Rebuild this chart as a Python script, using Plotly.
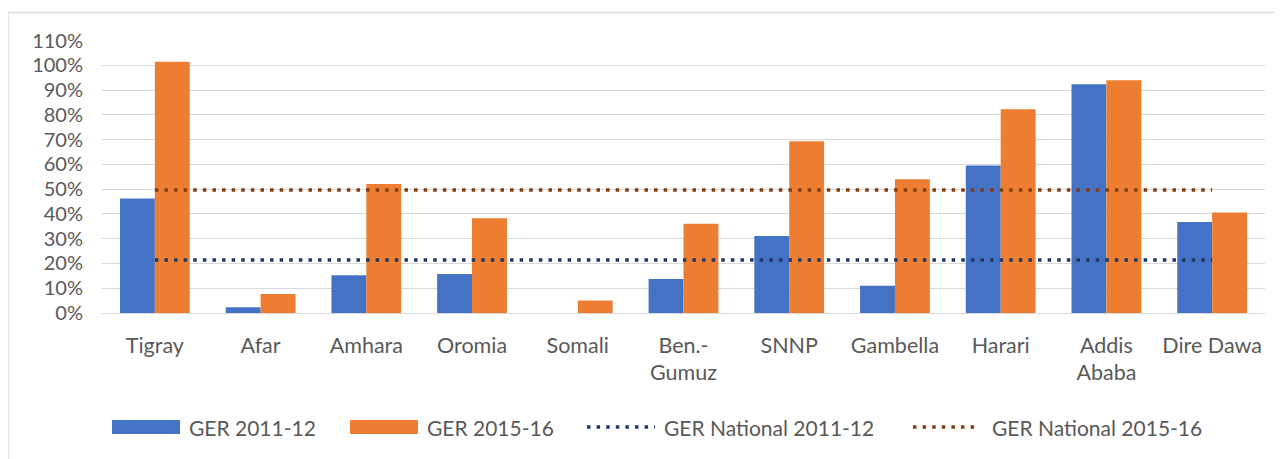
import plotly.graph_objects as go

# ---- data ----
regions = ["Tigray", "Afar", "Amhara", "Oromia", "Somali", "Ben.-<br>Gumuz",
           "SNNP", "Gambella", "Harari", "Addis<br>Ababa", "Dire Dawa"]
ger_2011_12 = [0.463, 0.023, 0.153, 0.158, 0.0, 0.137, 0.311, 0.110, 0.596, 0.924, 0.368]
ger_2015_16 = [1.015, 0.077, 0.521, 0.383, 0.050, 0.361, 0.694, 0.540, 0.823, 0.940, 0.406]
national_2011_12 = 0.214
national_2015_16 = 0.497

series_names = ["GER 2011-12", "GER 2015-16", "GER National 2011-12", "GER National 2015-16"]
y_tick_vals = [i / 10 for i in range(12)]

# ---- style ----
W, H = 1282, 459
OFF = 8  # page body margin offset
BLUE, ORANGE = "#4472C4", "#ED7D31"
NAVY, BROWN = "#203864", "#843C0C"
TXT = "#595959"
GRID = "#d9d9d9"
FONT = "Lato"
FS_Y = 20
FS_X = 21.5
FS_L = 21
DOT = "3.5px,6.1px"

def px_x(x):
    return (x - OFF) / W

def px_y(y):
    return 1 - (y - OFF) / H

fig = go.Figure()
fig.add_trace(go.Bar(x=regions, y=ger_2011_12, name=series_names[0], marker_color=BLUE,
                     marker_line_width=0))
fig.add_trace(go.Bar(x=regions, y=ger_2015_16, name=series_names[1], marker_color=ORANGE,
                     marker_line_width=0))
fig.add_trace(go.Scatter(x=regions, y=[national_2011_12] * len(regions), name=series_names[2],
                         mode="lines", line=dict(color=NAVY, width=3.5, dash=DOT)))
fig.add_trace(go.Scatter(x=regions, y=[national_2015_16] * len(regions), name=series_names[3],
                         mode="lines", line=dict(color=BROWN, width=3.5, dash=DOT)))

fig.update_layout(
    template="none",
    width=W, height=H, autosize=False,
    margin=dict(l=0, r=0, t=0, b=0, pad=0, autoexpand=False),
    paper_bgcolor="white", plot_bgcolor="white",
    barmode="group", bargap=0.34, bargroupgap=0,
    showlegend=False,
    font=dict(family=FONT, size=FS_X, color=TXT),
)
fig.update_xaxes(
    domain=[px_x(102), px_x(1265)], automargin=False,
    showgrid=False, showline=False, zeroline=False, ticks="",
    tickfont=dict(family=FONT, size=FS_X, color=TXT),
    ticklabelstandoff=17,
)
fig.update_yaxes(
    domain=[px_y(313), px_y(40.7)], automargin=False,
    range=[0, 1.1], tickvals=y_tick_vals, tickformat=".0%",
    showgrid=True, gridcolor=GRID, gridwidth=1.3,
    zeroline=True, zerolinecolor=GRID, zerolinewidth=1.3,
    showline=False, ticks="",
    tickfont=dict(family=FONT, size=FS_Y, color=TXT),
    ticklabelstandoff=18,
)

# chart frame
fig.add_shape(type="rect", xref="paper", yref="paper",
              x0=px_x(8), x1=1.05, y0=-0.1, y1=px_y(12.5),
              line=dict(color=GRID, width=1.3), fillcolor="rgba(0,0,0,0)", layer="below")

# legend (drawn manually to get Excel-like wide swatches)
leg_y = 427
items = [
    ("bar", BLUE, 112, 180, 187, series_names[0]),
    ("bar", ORANGE, 350, 418, 425, series_names[1]),
    ("line", NAVY, 587, 655, 662, series_names[2]),
    ("line", BROWN, 913, 978, 990, series_names[3]),
]
for kind, col, x0, x1, xt, label in items:
    if kind == "bar":
        fig.add_shape(type="rect", xref="paper", yref="paper",
                      x0=px_x(x0), x1=px_x(x1), y0=px_y(leg_y + 7), y1=px_y(leg_y - 7),
                      line=dict(width=0), fillcolor=col)
    else:
        fig.add_shape(type="line", xref="paper", yref="paper",
                      x0=px_x(x0), x1=px_x(x1), y0=px_y(leg_y), y1=px_y(leg_y),
                      line=dict(color=col, width=3.5, dash=DOT))
    fig.add_annotation(text=label, xref="paper", yref="paper", x=px_x(xt), y=px_y(leg_y),
                       xanchor="left", yanchor="middle", showarrow=False,
                       font=dict(family=FONT, size=FS_L, color=TXT))

fig.write_html("out.html")
